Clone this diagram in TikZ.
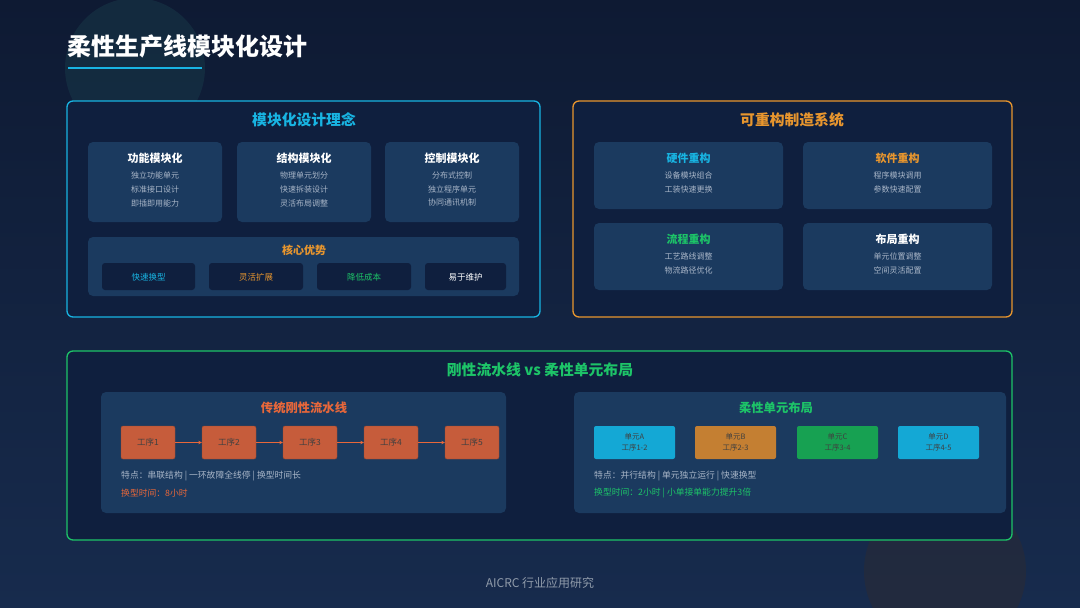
\documentclass[tikz,border=0pt]{standalone}
\usepackage{fontspec}
\setmainfont{Noto Sans CJK SC}
\usetikzlibrary{arrows.meta}
\definecolor{bgA}{HTML}{0E1A33}
\definecolor{bgB}{HTML}{172B4D}
\definecolor{panel}{HTML}{0F1F3E}
\definecolor{card}{HTML}{1B3A5F}
\definecolor{chip}{HTML}{0F1F3E}
\definecolor{cyanc}{HTML}{18B4E2}
\definecolor{orangec}{HTML}{E8962E}
\definecolor{greenc}{HTML}{1DC468}
\definecolor{redc}{HTML}{E8673A}
\definecolor{brick}{HTML}{C65C3B}
\definecolor{txtg}{HTML}{A9B6C8}
\definecolor{cellc}{HTML}{14A8D5}
\definecolor{cello}{HTML}{C47F32}
\definecolor{cellg}{HTML}{17A152}
\tikzset{
  x=1pt,y=-1pt,
  frame/.style={draw=#1,line width=1.3pt,rounded corners=6pt,fill=panel},
  cardbox/.style={fill=card,rounded corners=5pt},
  chipbox/.style={fill=chip,rounded corners=3pt},
  boxtitle/.style={font=\fontsize{14.8}{17}\selectfont\bfseries,text=#1},
  cardtitle/.style={font=\fontsize{11}{13}\selectfont\bfseries,text=#1},
  subtitle/.style={font=\fontsize{12.3}{14}\selectfont\bfseries,text=#1},
  small/.style={font=\fontsize{8}{10}\selectfont,text=txtg},
  chiptxt/.style={font=\fontsize{8.5}{10}\selectfont,text=#1},
  stepbox/.style={fill=brick,draw=brick!80!black,rounded corners=2pt,minimum width=54pt,minimum height=33pt,font=\fontsize{8.5}{10}\selectfont,text=black!75,inner sep=0pt},
  cellbox/.style={fill=#1,rounded corners=2pt,minimum width=81pt,minimum height=33pt,font=\fontsize{7.5}{11}\selectfont,text=black!75,inner sep=0pt,align=center},
  flow/.style={draw=redc,line width=0.7pt,-{Stealth[length=3.5pt,width=3.5pt]}},
  note/.style={anchor=west,font=\fontsize{8.8}{10}\selectfont,text=#1,inner sep=0pt}
}
\begin{document}
\begin{tikzpicture}
\useasboundingbox (0,0) rectangle (1080,608);
\shade[shading=axis,shading angle=-60,top color=bgA,bottom color=bgB] (0,0) rectangle (1080,608);
\fill[color={rgb,255:red,24;green,56;blue,72}, opacity=0.55] (135,68) circle (70);
\fill[color={rgb,255:red,36;green,42;blue,60}, opacity=0.85] (945,571) circle (81);
% title
\node[anchor=west,inner sep=0pt,font=\fontsize{24}{27}\selectfont\bfseries,text=white] (title) at (67,46) {柔性生产线模块化设计};
\draw[cyanc,line width=2pt] (68,68) -- (202,68);
% box 1
\draw[frame=cyanc] (67,101) rectangle (540,317);
\node[boxtitle=cyanc] (t1) at (304,120) {模块化设计理念};
\foreach \xa/\ttl/\la/\lb/\lc [count=\i] in {88/功能模块化/独立功能单元/标准接口设计/即插即用能力,237/结构模块化/物理单元划分/快速拆装设计/灵活布局调整,385/控制模块化/分布式控制/独立程序单元/协同通讯机制}{
  \fill[cardbox] (\xa,142) rectangle ++(134,80);
  \node[cardtitle=white] (c\i) at (\xa+67,158) {\ttl};
  \node[small] (c\i a) at (\xa+67,175) {\la};
  \node[small] (c\i b) at (\xa+67,189) {\lb};
  \node[small] (c\i c) at (\xa+67,203) {\lc};
}
\fill[cardbox] (88,237) rectangle (519,296);
\node[cardtitle=orangec] (adv) at (304,250) {核心优势};
\foreach \xa/\xb/\tx/\cl [count=\i] in {102/195/快速换型/cyanc,209/303/灵活扩展/orangec,317/411/降低成本/greenc,425/506/易于维护/white}{
  \fill[chipbox] (\xa,263) rectangle (\xb,290);
  \node[chiptxt=\cl] (k\i) at ({(\xa+\xb)/2},277) {\tx};
}
% box 2
\draw[frame=orangec] (573,101) rectangle (1012,317);
\node[boxtitle=orangec] (t2) at (792,120) {可重构制造系统};
\foreach \xa/\ya/\ttl/\cl/\la/\lb [count=\i] in {594/142/硬件重构/cyanc/设备模块组合/工装快速更换,803/142/软件重构/orangec/程序模块调用/参数快速配置,594/223/流程重构/greenc/工艺路线调整/物流路径优化,803/223/布局重构/white/单元位置调整/空间灵活配置}{
  \fill[cardbox] (\xa,\ya) rectangle ++(189,67);
  \node[cardtitle=\cl] (r\i) at (\xa+94.5,\ya+16) {\ttl};
  \node[small] (r\i a) at (\xa+94.5,\ya+33) {\la};
  \node[small] (r\i b) at (\xa+94.5,\ya+47) {\lb};
}
% box 3
\draw[frame=greenc] (67,351) rectangle (1012,540);
\node[boxtitle=greenc] (t3) at (540,370) {刚性流水线 vs 柔性单元布局};
\fill[cardbox] (101,392) rectangle (506,513);
\node[subtitle=redc] (lt) at (304,408) {传统刚性流水线};
\foreach \xa [count=\i] in {148,229,310,391,472}{
  \node[stepbox] (s\i) at (\xa,442.5) {工序\i};
}
\foreach \i/\j in {1/2,2/3,3/4,4/5}{ \draw[flow] (s\i) -- (s\j); }
\node[note=txtg] (ln1) at (121,476) {特点：串联结构 | 一环故障全线停 | 换型时间长};
\node[note=redc] (ln2) at (121,493) {换型时间：8小时};
\fill[cardbox] (574,392) rectangle (1006,513);
\node[subtitle=greenc] (rt) at (776,408) {柔性单元布局};
\foreach \xa/\cl/\nm/\st [count=\i] in {634.5/cellc/A/1-2,735.5/cello/B/2-3,837.5/cellg/C/3-4,938.5/cellc/D/4-5}{
  \node[cellbox=\cl] (u\i) at (\xa,442.5) {单元\nm\\工序\st};
}
\node[note=txtg] (rn1) at (594,476) {特点：并行结构 | 单元独立运行 | 快速换型};
\node[note=greenc] (rn2) at (594,493) {换型时间：2小时 | 小单接单能力提升3倍};
% footer
\node[font=\fontsize{12}{14}\selectfont,text=txtg!85!black] (foot) at (540,583) {AICRC 行业应用研究};
\end{tikzpicture}
\end{document}
